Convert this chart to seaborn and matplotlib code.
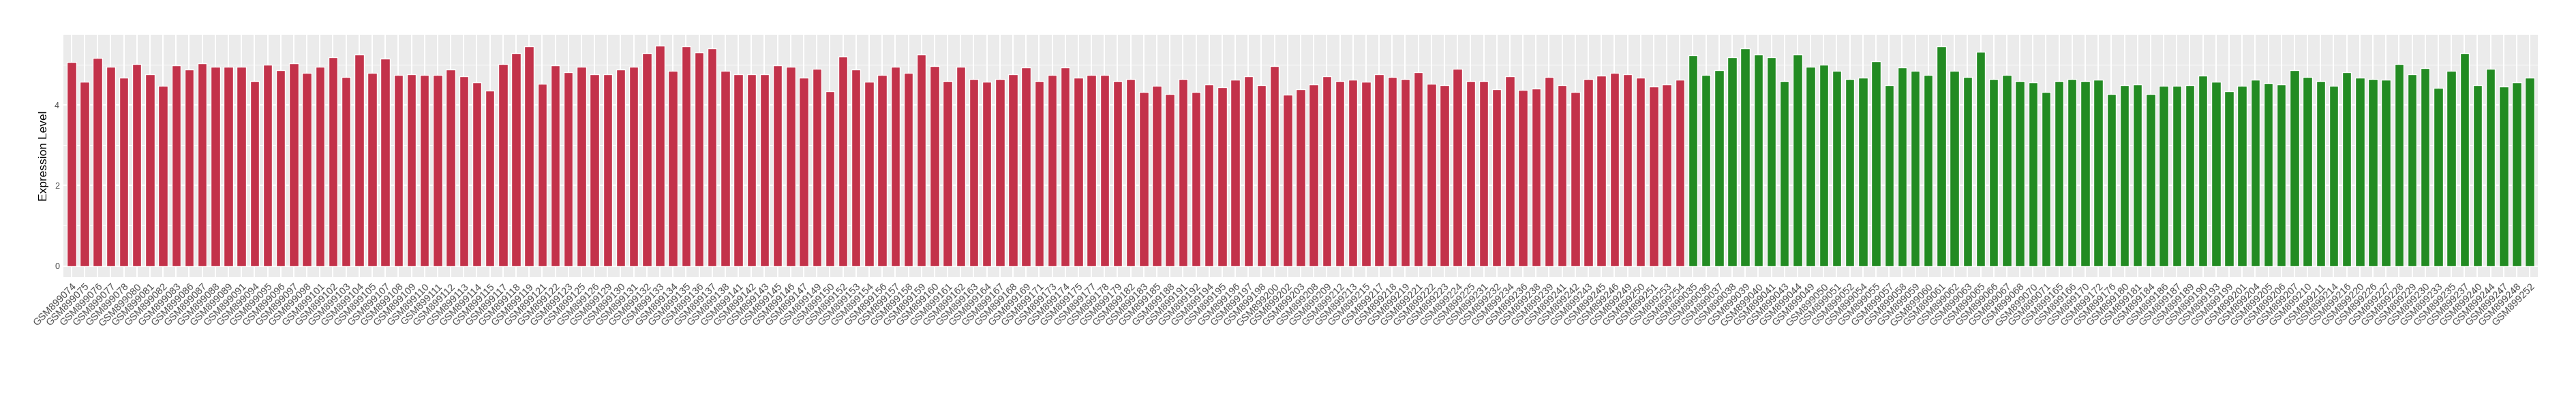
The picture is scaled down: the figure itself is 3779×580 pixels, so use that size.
import matplotlib
matplotlib.use("Agg")
import matplotlib.pyplot as plt
import seaborn as sns
import pandas as pd
from matplotlib.ticker import MultipleLocator

# red group (first block of samples)
tumor_samples = [
    "GSM899074", "GSM899075", "GSM899076", "GSM899077", "GSM899078", "GSM899080", "GSM899081", "GSM899082",
    "GSM899083", "GSM899086", "GSM899087", "GSM899088", "GSM899089", "GSM899091", "GSM899094", "GSM899095",
    "GSM899096", "GSM899097", "GSM899098", "GSM899101", "GSM899102", "GSM899103", "GSM899104", "GSM899105",
    "GSM899107", "GSM899108", "GSM899109", "GSM899110", "GSM899111", "GSM899112", "GSM899113", "GSM899114",
    "GSM899115", "GSM899117", "GSM899118", "GSM899119", "GSM899121", "GSM899122", "GSM899123", "GSM899125",
    "GSM899126", "GSM899129", "GSM899130", "GSM899131", "GSM899132", "GSM899133", "GSM899134", "GSM899135",
    "GSM899136", "GSM899137", "GSM899138", "GSM899141", "GSM899142", "GSM899143", "GSM899145", "GSM899146",
    "GSM899147", "GSM899149", "GSM899150", "GSM899152", "GSM899153", "GSM899154", "GSM899156", "GSM899157",
    "GSM899158", "GSM899159", "GSM899160", "GSM899161", "GSM899162", "GSM899163", "GSM899164", "GSM899167",
    "GSM899168", "GSM899169", "GSM899171", "GSM899173", "GSM899174", "GSM899175", "GSM899177", "GSM899178",
    "GSM899179", "GSM899182", "GSM899183", "GSM899185", "GSM899188", "GSM899191", "GSM899192", "GSM899194",
    "GSM899195", "GSM899196", "GSM899197", "GSM899198", "GSM899200", "GSM899202", "GSM899203", "GSM899208",
    "GSM899209", "GSM899212", "GSM899213", "GSM899215", "GSM899217", "GSM899218", "GSM899219", "GSM899221",
    "GSM899222", "GSM899223", "GSM899224", "GSM899225", "GSM899231", "GSM899232", "GSM899234", "GSM899236",
    "GSM899238", "GSM899239", "GSM899241", "GSM899242", "GSM899243", "GSM899245", "GSM899246", "GSM899249",
    "GSM899250", "GSM899251", "GSM899253", "GSM899254",
]
tumor_values = [
    5.06, 4.58, 5.17, 4.95, 4.67, 5.02, 4.77, 4.47, 4.99, 4.88, 5.03, 4.94, 4.94, 4.95, 4.59, 5.00,
    4.86, 5.03, 4.79, 4.94, 5.19, 4.69, 5.25, 4.79, 5.15, 4.74, 4.77, 4.74, 4.74, 4.88, 4.71, 4.56,
    4.36, 5.02, 5.29, 5.45, 4.53, 4.99, 4.82, 4.95, 4.76, 4.77, 4.88, 4.95, 5.29, 5.47, 4.85, 5.45,
    5.31, 5.40, 4.85, 4.77, 4.77, 4.77, 4.99, 4.95, 4.67, 4.90, 4.34, 5.21, 4.88, 4.58, 4.74, 4.94,
    4.80, 5.25, 4.97, 4.60, 4.94, 4.64, 4.58, 4.64, 4.76, 4.93, 4.59, 4.74, 4.93, 4.68, 4.74, 4.74,
    4.59, 4.64, 4.32, 4.47, 4.28, 4.64, 4.32, 4.51, 4.44, 4.62, 4.71, 4.49, 4.97, 4.25, 4.39, 4.51,
    4.71, 4.60, 4.62, 4.58, 4.76, 4.69, 4.65, 4.82, 4.53, 4.50, 4.90, 4.59, 4.59, 4.39, 4.71, 4.38,
    4.41, 4.69, 4.49, 4.32, 4.64, 4.73, 4.79, 4.76, 4.68, 4.45, 4.51, 4.62,
]

# green group
normal_samples = [
    "GSM899035", "GSM899036", "GSM899037", "GSM899038", "GSM899039", "GSM899040", "GSM899041", "GSM899043",
    "GSM899044", "GSM899049", "GSM899050", "GSM899051", "GSM899052", "GSM899054", "GSM899055", "GSM899057",
    "GSM899058", "GSM899059", "GSM899060", "GSM899061", "GSM899062", "GSM899063", "GSM899065", "GSM899066",
    "GSM899067", "GSM899068", "GSM899070", "GSM899071", "GSM899165", "GSM899166", "GSM899170", "GSM899172",
    "GSM899176", "GSM899180", "GSM899181", "GSM899184", "GSM899186", "GSM899187", "GSM899189", "GSM899190",
    "GSM899193", "GSM899199", "GSM899201", "GSM899204", "GSM899205", "GSM899206", "GSM899207", "GSM899210",
    "GSM899211", "GSM899214", "GSM899216", "GSM899220", "GSM899226", "GSM899227", "GSM899228", "GSM899229",
    "GSM899230", "GSM899233", "GSM899235", "GSM899237", "GSM899240", "GSM899244", "GSM899247", "GSM899248",
    "GSM899252",
]
normal_values = [
    5.23, 4.74, 4.86, 5.19, 5.40, 5.25, 5.19, 4.60, 5.26, 4.95, 5.00, 4.85, 4.65, 4.67, 5.08, 4.50,
    4.93, 4.84, 4.74, 5.45, 4.85, 4.69, 5.32, 4.64, 4.74, 4.60, 4.56, 4.33, 4.60, 4.64, 4.59, 4.62,
    4.27, 4.49, 4.51, 4.28, 4.47, 4.47, 4.50, 4.73, 4.58, 4.34, 4.47, 4.62, 4.54, 4.51, 4.86, 4.69,
    4.60, 4.47, 4.82, 4.68, 4.65, 4.62, 5.02, 4.76, 4.91, 4.42, 4.85, 5.29, 4.50, 4.90, 4.45, 4.56,
    4.67,
]

df = pd.DataFrame({
    "sample": tumor_samples + normal_samples,
    "value": tumor_values + normal_values,
    "group": ["Tumor"] * len(tumor_samples) + ["Normal"] * len(normal_samples),
})

sns.set_theme(style="darkgrid", rc={
    "axes.facecolor": "#EBEBEB",
    "grid.color": "white",
    "axes.edgecolor": "#EBEBEB",
})
plt.rcParams["font.family"] = ["Liberation Sans", "DejaVu Sans"]

fig = plt.figure(figsize=(37.8, 5.8), dpi=100)
ax = fig.add_axes([0.02468, 0.29879, 0.96016, 0.61328])

sns.barplot(data=df, x="sample", y="value", hue="group", order=list(df["sample"]),
            palette={"Tumor": "#C3324A", "Normal": "#228B22"}, width=0.7, dodge=False,
            saturation=1, legend=False, ax=ax)

n = len(df)
vmax = df["value"].max()
ax.set_xlim(-0.6, n - 0.4)
ax.set_ylim(-0.05 * vmax, 1.05 * vmax)
ax.set_yticks([0, 2, 4])
ax.yaxis.set_minor_locator(MultipleLocator(1))

ax.set_axisbelow(True)
ax.grid(which="major", color="white", linewidth=1.45)
ax.grid(which="minor", axis="y", color="white", linewidth=0.7)
for s in ax.spines.values():
    s.set_visible(False)

ax.tick_params(axis="both", which="major", length=2.9, width=0.75, color="#333333",
               labelcolor="#4D4D4D")
ax.tick_params(axis="y", which="major", labelsize=9, pad=1.5)
ax.tick_params(axis="x", which="major", labelsize=10.5, pad=2)
ax.tick_params(which="minor", length=0)

ax.set_xticks(range(n))
ax.set_xticklabels(df["sample"], rotation=45, ha="right", rotation_mode="anchor")

ax.set_xlabel("")
ax.set_ylabel("Expression Level", fontsize=12.5, color="black", labelpad=6)

fig.savefig("out.png", dpi=100)
